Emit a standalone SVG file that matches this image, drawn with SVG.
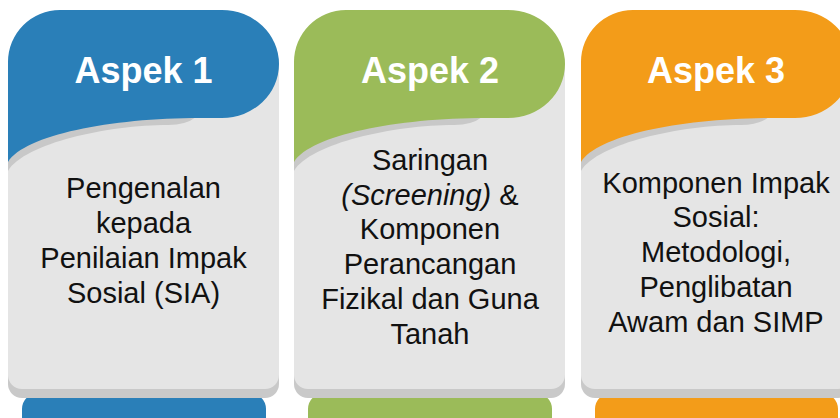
<svg xmlns="http://www.w3.org/2000/svg" xmlns:xlink="http://www.w3.org/1999/xlink" width="840" height="418" viewBox="0 0 840 418">
<style>
.hd{font-family:"Liberation Sans",Arial,sans-serif;font-weight:bold;font-size:36px;fill:#ffffff;text-anchor:middle}
.bt{font-family:"Liberation Sans",Arial,sans-serif;font-size:29px;fill:#111111;text-anchor:middle}
.it{font-style:italic}
.body{fill:#e5e5e5}
.bshadow{fill:#c9c9c9}
.wshadow{fill:#c8c8c8}
</style>
<defs>
<path id="hdr" d="M0,162 L0,62 A52,52 0 0 1 52,10 L214,10 A57,54 0 0 1 271,64 A57,54 0 0 1 214,118 L192,118 C102,118 17,135 0,162 Z"/>
<path id="wsh" d="M0,150 L0,171 C17,143 100,125 160,125 Q178,125 188,117 L0,117 Z"/>
<g id="card">
<rect class="bshadow" x="0" y="50" width="271" height="348" rx="14"/>
<rect class="body" x="0" y="50" width="271" height="339" rx="14"/>
<use xlink:href="#wsh" class="wshadow"/>
</g>
</defs>
<g id="aspek1">
<rect x="22" y="393" width="244" height="40" rx="16" fill="#2a7fb8"/>
<use xlink:href="#card" x="8"/>
<use xlink:href="#hdr" x="8" fill="#2a7fb8"/>
<text class="hd" x="143.5" y="82.5">Aspek 1</text>
<text class="bt" x="143.5" y="198">Pengenalan</text>
<text class="bt" x="143.5" y="233">kepada</text>
<text class="bt" x="143.5" y="268">Penilaian Impak</text>
<text class="bt" x="143.5" y="303">Sosial (SIA)</text>
</g>
<g id="aspek2">
<rect x="308" y="393" width="244" height="40" rx="16" fill="#9bbb59"/>
<use xlink:href="#card" x="294"/>
<use xlink:href="#hdr" x="294" fill="#9bbb59"/>
<text class="hd" x="430" y="82.5">Aspek 2</text>
<text class="bt" x="430" y="169.5">Saringan</text>
<text class="bt" x="430" y="204.5"><tspan class="it">(Screening)</tspan> &amp;</text>
<text class="bt" x="430" y="239">Komponen</text>
<text class="bt" x="430" y="274">Perancangan</text>
<text class="bt" x="430" y="309">Fizikal dan Guna</text>
<text class="bt" x="430" y="344">Tanah</text>
</g>
<g id="aspek3">
<rect x="595" y="393" width="243" height="40" rx="16" fill="#f39c19"/>
<use xlink:href="#card" x="581"/>
<use xlink:href="#hdr" x="581" fill="#f39c19"/>
<text class="hd" x="716" y="82.5">Aspek 3</text>
<text class="bt" x="716" y="192.5">Komponen Impak</text>
<text class="bt" x="716" y="227">Sosial:</text>
<text class="bt" x="716" y="262">Metodologi,</text>
<text class="bt" x="716" y="297">Penglibatan</text>
<text class="bt" x="716" y="332">Awam dan SIMP</text>
</g>
</svg>
